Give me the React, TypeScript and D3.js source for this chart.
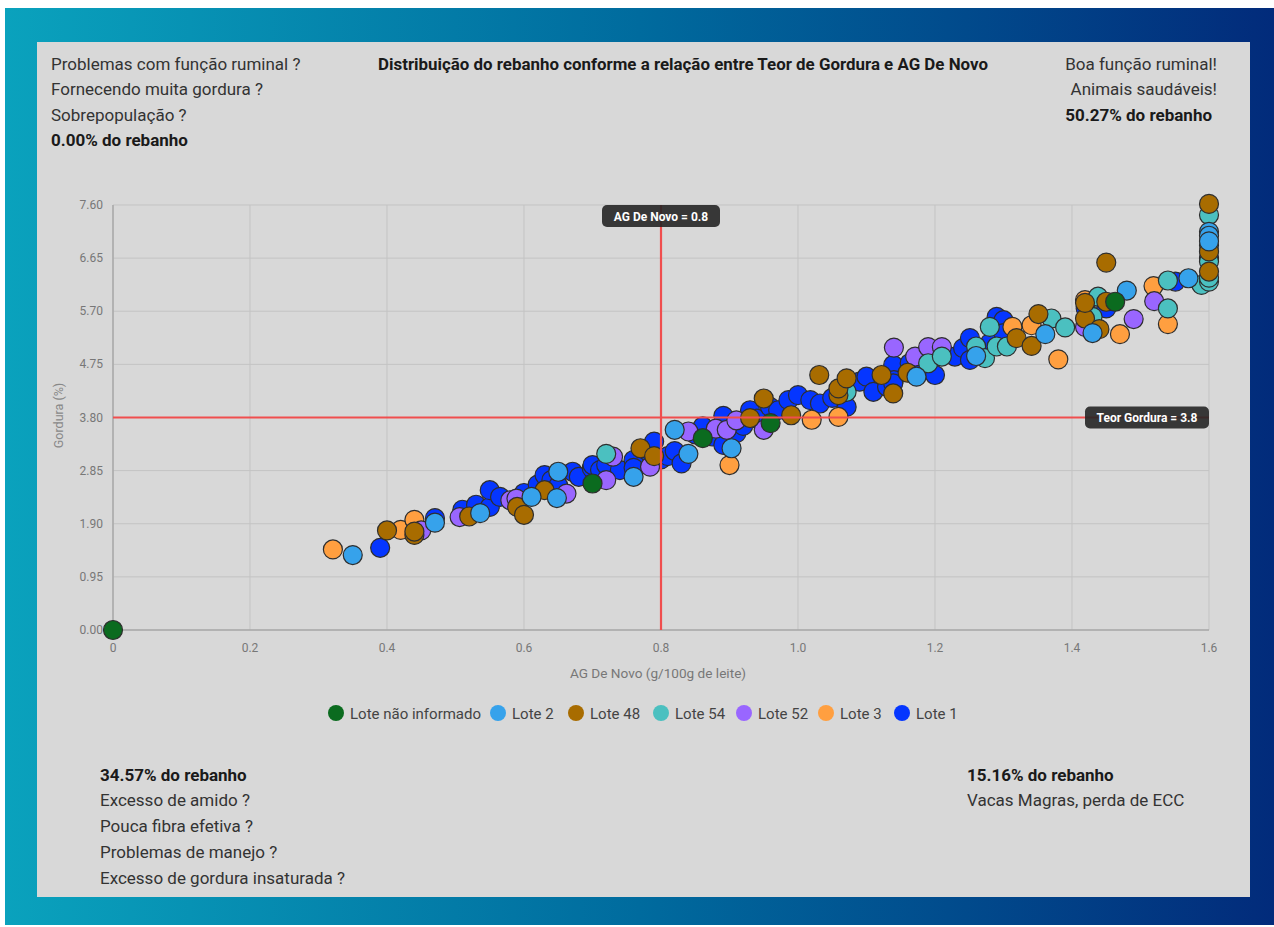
import React from 'react';
import * as d3 from 'd3';

// ---- data ----
const seriesNames = ['Lote não informado', 'Lote 2', 'Lote 48', 'Lote 54', 'Lote 52', 'Lote 3', 'Lote 1'];
const seriesColors = ['#0b6b1f', '#36a2eb', '#a86c00', '#4bc0c0', '#9966ff', '#ff9f40', '#0536ff'];

const loteNaoInformado: [number, number][] = [
  [0, 0], [0.70, 2.62], [0.861, 3.43], [0.96, 3.70], [1.463, 5.87],
];
const lote2: [number, number][] = [
  [0.35, 1.34], [0.47, 1.92], [0.536, 2.09], [0.611, 2.38], [0.648, 2.36],
  [0.65, 2.83], [0.76, 2.74], [0.82, 3.58], [0.84, 3.15], [0.903, 3.25],
  [1.173, 4.53], [1.26, 4.9], [1.361, 5.29],
  [1.43, 5.31], [1.48, 6.07], [1.57, 6.29], [1.6, 7.12], [1.6, 7.05], [1.6, 6.95],
];
const lote48: [number, number][] = [
  [0.40, 1.78], [0.44, 1.70], [0.44, 1.76], [0.52, 2.03], [0.59, 2.2], [0.60, 2.06],
  [0.63, 2.5], [0.77, 3.25], [0.79, 3.11], [0.93, 3.79], [0.95, 4.14],
  [0.99, 3.84], [1.031, 4.56], [1.059, 4.2], [1.059, 4.32], [1.071, 4.5], [1.122, 4.56],
  [1.139, 4.23], [1.16, 4.6], [1.319, 5.22], [1.341, 5.08], [1.351, 5.65], [1.419, 5.57], [1.419, 5.85],
  [1.44, 5.38], [1.45, 5.87], [1.45, 6.57], [1.6, 7.62], [1.6, 6.77], [1.6, 6.41],
];
const lote54: [number, number][] = [
  [0.72, 3.15], [1.071, 4.26], [1.19, 4.77],
  [1.21, 4.89], [1.26, 5.07], [1.273, 4.86], [1.28, 5.42], [1.29, 5.07], [1.305, 5.07],
  [1.37, 5.57], [1.39, 5.41], [1.43, 5.6], [1.438, 5.96], [1.54, 6.25], [1.54, 5.75], [1.589, 6.17],
  [1.6, 6.23], [1.6, 7.42], [1.6, 6.88], [1.6, 6.59], [1.6, 6.3],
];
const lote52: [number, number][] = [
  [0.45, 1.78], [0.506, 2.02], [0.58, 2.32], [0.589, 2.35], [0.662, 2.44],
  [0.72, 2.68], [0.73, 3.1], [0.784, 2.92], [0.84, 3.55], [0.88, 3.6],
  [0.896, 3.58], [0.91, 3.75], [0.95, 3.58], [1.14, 5.05], [1.171, 4.89], [1.19, 5.06], [1.21, 5.06],
  [1.419, 5.42], [1.49, 5.56], [1.52, 5.88],
];
const lote3: [number, number][] = [
  [0.321, 1.44], [0.42, 1.79], [0.44, 1.97], [0.90, 2.95], [1.02, 3.76],
  [1.059, 3.81], [1.263, 4.92], [1.313, 5.42], [1.341, 5.45], [1.38, 4.84], [1.419, 5.9], [1.47, 5.29],
  [1.519, 6.15], [1.54, 5.47],
];
const lote1: [number, number][] = [
  [0.39, 1.47], [0.47, 2.0], [0.51, 2.15], [0.53, 2.24], [0.55, 2.2], [0.55, 2.5], [0.565, 2.38],
  [0.60, 2.45], [0.62, 2.6], [0.63, 2.77], [0.64, 2.68], [0.65, 2.58], [0.671, 2.83], [0.68, 2.74],
  [0.699, 2.89], [0.7, 2.95], [0.711, 2.86], [0.72, 2.95], [0.74, 2.86], [0.76, 3.04], [0.76, 2.9],
  [0.78, 3.2], [0.79, 3.37], [0.80, 3.05], [0.81, 3.11], [0.82, 3.2], [0.83, 2.98], [0.85, 3.5],
  [0.861, 3.64], [0.875, 3.46], [0.891, 3.31], [0.891, 3.83], [0.91, 3.52], [0.92, 3.65], [0.93, 3.93],
  [0.94, 3.78], [0.959, 3.99], [0.971, 3.93], [0.986, 4.11], [1.0, 4.2], [1.018, 4.11], [1.032, 4.05],
  [1.05, 4.15], [1.071, 3.99], [1.09, 4.44], [1.10, 4.53], [1.11, 4.26], [1.13, 4.35], [1.139, 4.74],
  [1.14, 4.47], [1.139, 4.41], [1.163, 4.77], [1.173, 4.74], [1.2, 4.56], [1.229, 4.89], [1.241, 5.04],
  [1.251, 4.83], [1.251, 5.22], [1.28, 5.13], [1.29, 5.6], [1.30, 5.54], [1.30, 5.31], [1.42, 5.75],
  [1.45, 5.75], [1.551, 6.23], [1.6, 6.65],
];
const seriesData = [loteNaoInformado, lote2, lote48, lote54, lote52, lote3, lote1];

const yTicks = [0, 0.95, 1.9, 2.85, 3.8, 4.75, 5.7, 6.65, 7.6];
const xTicks = [0, 0.2, 0.4, 0.6, 0.8, 1.0, 1.2, 1.4, 1.6];
const xTickLabels = ['0', '0.2', '0.4', '0.6', '0.8', '1.0', '1.2', '1.4', '1.6'];
const refAgDeNovo = 0.8;
const refGordura = 3.8;

const topLeftLines = ['Problemas com função ruminal ?', 'Fornecendo muita gordura ?', 'Sobrepopulação ?'];
const topLeftPct = '0.00% do rebanho';
const topRightLines = ['Boa função ruminal!', 'Animais saudáveis!'];
const topRightPct = '50.27% do rebanho';
const bottomLeftPct = '34.57% do rebanho';
const bottomLeftLines = ['Excesso de amido ?', 'Pouca fibra efetiva ?', 'Problemas de manejo ?', 'Excesso de gordura insaturada ?'];
const bottomRightPct = '15.16% do rebanho';
const bottomRightLines = ['Vacas Magras, perda de ECC'];

const W = 1274;
const H = 927;
const font = 'Roboto, sans-serif';

export default function App() {
  const x = d3.scaleLinear().domain([0, 1.6]).range([113, 1209]);
  const y = d3.scaleLinear().domain([0, 7.6]).range([630, 205]);

  // first dataset ends up on top (chart.js style), so paint in reverse
  const order = d3.range(seriesNames.length).reverse();

  const legendX = [336, 498, 576, 661, 744, 826, 902];

  return (
    <svg width={W} height={H} style={{ position: 'absolute', left: 0, top: 0 }} fontFamily={font}>
      <defs>
        <linearGradient id="bg" x1="0" x2="1" y1="0" y2="0">
          <stop offset="0%" stopColor="#0aa2bd" />
          <stop offset="50%" stopColor="#006b9e" />
          <stop offset="100%" stopColor="#022b7b" />
        </linearGradient>
      </defs>
      <rect x={0} y={0} width={W} height={H} fill="#fff" />
      <rect x={5} y={8} width={W - 5} height={H - 10} fill="url(#bg)" />
      <rect x={37} y={42} width={1213} height={855} fill="#d8d8d8" />

      {/* top texts */}
      {topLeftLines.map((t, i) => (
        <text key={t} x={51} y={70 + i * 25.3} fontSize={17} fill="#333">{t}</text>
      ))}
      <text x={51} y={146} fontSize={17} fontWeight="bold" fill="#1a1a1a">{topLeftPct}</text>
      <text x={683} y={70} fontSize={16.9} fontWeight="bold" fill="#1a1a1a" textAnchor="middle">
        Distribuição do rebanho conforme a relação entre Teor de Gordura e AG De Novo
      </text>
      {topRightLines.map((t, i) => (
        <text key={t} x={1217} y={70 + i * 25.3} fontSize={17} fill="#333" textAnchor="end">{t}</text>
      ))}
      <text x={1212} y={121} fontSize={17} fontWeight="bold" fill="#1a1a1a" textAnchor="end">{topRightPct}</text>

      {/* grid */}
      {yTicks.map((v) => (
        <line key={'gy' + v} x1={x(0)} x2={x(1.6)} y1={y(v)} y2={y(v)} stroke="#c3c3c3" strokeWidth={1} />
      ))}
      {xTicks.map((v) => (
        <line key={'gx' + v} x1={x(v)} x2={x(v)} y1={y(7.6)} y2={y(0)} stroke="#c3c3c3" strokeWidth={1} />
      ))}
      <line x1={x(0)} x2={x(0)} y1={y(7.6)} y2={y(0) + 5} stroke="#a8a8a8" strokeWidth={1.5} />
      <line x1={x(0) - 5} x2={x(1.6)} y1={y(0)} y2={y(0)} stroke="#a8a8a8" strokeWidth={1.5} />

      {yTicks.map((v) => (
        <text key={'ty' + v} x={103} y={y(v) + 4} fontSize={12} fill="#777" textAnchor="end">{v.toFixed(2)}</text>
      ))}
      {xTicks.map((v, i) => (
        <text key={'tx' + v} x={x(v)} y={652} fontSize={12} fill="#777" textAnchor="middle">{xTickLabels[i]}</text>
      ))}
      <text x={658} y={678} fontSize={13.6} fill="#777" textAnchor="middle">AG De Novo (g/100g de leite)</text>
      <text transform={`translate(63,${y(3.8) - 2}) rotate(-90)`} fontSize={12.5} fill="#888" textAnchor="middle">Gordura (%)</text>

      {/* points */}
      {order.map((si) => (
        <g key={seriesNames[si]}>
          {seriesData[si].map(([a, b], j) => (
            <circle key={j} cx={x(a)} cy={y(b)} r={9.5} fill={seriesColors[si]} stroke="#2e2e2e" strokeWidth={1.2} />
          ))}
        </g>
      ))}

      {/* reference lines */}
      <line x1={x(refAgDeNovo)} x2={x(refAgDeNovo)} y1={y(7.6)} y2={y(0)} stroke="#f04e4e" strokeWidth={2.2} />
      <line x1={x(0)} x2={x(1.6)} y1={y(refGordura)} y2={y(refGordura)} stroke="#f04e4e" strokeWidth={2.2} />

      <g>
        <rect x={x(refAgDeNovo) - 59} y={205} width={118} height={22} rx={5} fill="#262626" opacity={0.9} />
        <text x={x(refAgDeNovo)} y={220.5} fontSize={12} fontWeight="bold" fill="#fff" textAnchor="middle">
          AG De Novo = {refAgDeNovo}
        </text>
      </g>
      <g>
        <rect x={x(1.6) - 124} y={y(refGordura) - 11} width={124} height={22} rx={5} fill="#262626" opacity={0.9} />
        <text x={x(1.6) - 62} y={y(refGordura) + 4.5} fontSize={12} fontWeight="bold" fill="#fff" textAnchor="middle">
          Teor Gordura = {refGordura}
        </text>
      </g>

      {/* legend */}
      {seriesNames.map((n, i) => (
        <g key={'lg' + n}>
          <circle cx={legendX[i]} cy={713} r={8} fill={seriesColors[i]} />
          <text x={legendX[i] + 14} y={718.5} fontSize={15} fill="#444">{n}</text>
        </g>
      ))}

      {/* bottom texts */}
      <text x={100} y={781} fontSize={17} fontWeight="bold" fill="#1a1a1a">{bottomLeftPct}</text>
      {bottomLeftLines.map((t, i) => (
        <text key={t} x={100} y={806 + i * 26} fontSize={17} fill="#333">{t}</text>
      ))}
      <text x={967} y={781} fontSize={17} fontWeight="bold" fill="#1a1a1a">{bottomRightPct}</text>
      {bottomRightLines.map((t, i) => (
        <text key={t} x={967} y={806 + i * 26} fontSize={17} fill="#333">{t}</text>
      ))}
    </svg>
  );
}
